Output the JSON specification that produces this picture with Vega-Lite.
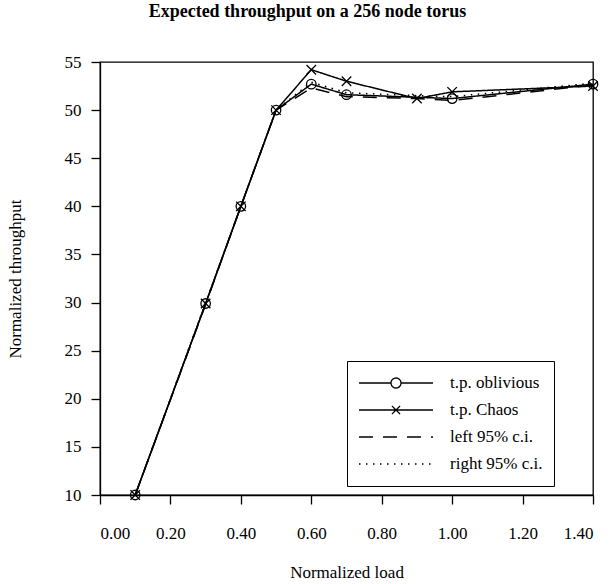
{
  "$schema": "https://vega.github.io/schema/vega-lite/v6.json",
  "width": 493,
  "height": 433,
  "autosize": {"type": "none"},
  "padding": {"left": 100, "top": 62, "right": 20, "bottom": 89},
  "background": "white",
  "title": {
    "text": "Expected throughput on a 256 node torus",
    "font": "Liberation Serif",
    "fontSize": 18,
    "fontWeight": "bold",
    "color": "black",
    "anchor": "middle",
    "baseline": "alphabetic",
    "offset": 18,
    "dx": -39
  },
  "config": {
    "view": {"stroke": "black", "strokeWidth": 1.3},
    "axis": {
      "grid": false,
      "domainColor": "black",
      "domainWidth": 1.3,
      "tickColor": "black",
      "tickWidth": 1.3,
      "tickSize": 9,
      "labelFont": "Liberation Serif",
      "labelFontSize": 17,
      "labelColor": "black",
      "titleFont": "Liberation Serif",
      "titleFontSize": 17,
      "titleFontWeight": "normal",
      "titleColor": "black"
    }
  },
  "data": {
    "values": [
      {"load": 0.1, "throughput": 10.0, "series": "t.p. oblivious"},
      {"load": 0.3, "throughput": 29.9, "series": "t.p. oblivious"},
      {"load": 0.4, "throughput": 40.0, "series": "t.p. oblivious"},
      {"load": 0.5, "throughput": 50.0, "series": "t.p. oblivious"},
      {"load": 0.6, "throughput": 52.7, "series": "t.p. oblivious"},
      {"load": 0.7, "throughput": 51.6, "series": "t.p. oblivious"},
      {"load": 1.0, "throughput": 51.2, "series": "t.p. oblivious"},
      {"load": 1.4, "throughput": 52.7, "series": "t.p. oblivious"},

      {"load": 0.1, "throughput": 10.0, "series": "t.p. Chaos"},
      {"load": 0.3, "throughput": 29.9, "series": "t.p. Chaos"},
      {"load": 0.4, "throughput": 40.0, "series": "t.p. Chaos"},
      {"load": 0.5, "throughput": 50.0, "series": "t.p. Chaos"},
      {"load": 0.6, "throughput": 54.2, "series": "t.p. Chaos"},
      {"load": 0.7, "throughput": 53.0, "series": "t.p. Chaos"},
      {"load": 0.9, "throughput": 51.2, "series": "t.p. Chaos"},
      {"load": 1.0, "throughput": 51.9, "series": "t.p. Chaos"},
      {"load": 1.4, "throughput": 52.5, "series": "t.p. Chaos"},

      {"load": 0.1, "throughput": 10.0, "series": "left 95% c.i."},
      {"load": 0.3, "throughput": 29.8, "series": "left 95% c.i."},
      {"load": 0.4, "throughput": 40.0, "series": "left 95% c.i."},
      {"load": 0.5, "throughput": 50.0, "series": "left 95% c.i."},
      {"load": 0.6, "throughput": 52.3, "series": "left 95% c.i."},
      {"load": 0.7, "throughput": 51.4, "series": "left 95% c.i."},
      {"load": 0.9, "throughput": 51.2, "series": "left 95% c.i."},
      {"load": 1.0, "throughput": 51.0, "series": "left 95% c.i."},
      {"load": 1.4, "throughput": 52.6, "series": "left 95% c.i."},

      {"load": 0.1, "throughput": 10.0, "series": "right 95% c.i."},
      {"load": 0.3, "throughput": 30.0, "series": "right 95% c.i."},
      {"load": 0.4, "throughput": 40.0, "series": "right 95% c.i."},
      {"load": 0.5, "throughput": 50.0, "series": "right 95% c.i."},
      {"load": 0.6, "throughput": 52.9, "series": "right 95% c.i."},
      {"load": 0.7, "throughput": 51.8, "series": "right 95% c.i."},
      {"load": 0.9, "throughput": 51.5, "series": "right 95% c.i."},
      {"load": 1.0, "throughput": 51.4, "series": "right 95% c.i."},
      {"load": 1.4, "throughput": 52.8, "series": "right 95% c.i."}
    ]
  },
  "encoding": {
    "x": {
      "field": "load",
      "type": "quantitative",
      "scale": {"domain": [0, 1.4], "nice": false, "zero": false},
      "axis": {
        "title": "Normalized load",
        "values": [0, 0.2, 0.4, 0.6, 0.8, 1.0, 1.2, 1.4],
        "format": ".2f",
        "labelPadding": 21,
        "titleY": 77,
        "titleBaseline": "middle"
      }
    },
    "y": {
      "field": "throughput",
      "type": "quantitative",
      "scale": {"domain": [10, 55], "nice": false, "zero": false},
      "axis": {
        "title": "Normalized throughput",
        "values": [10, 15, 20, 25, 30, 35, 40, 45, 50, 55],
        "labelPadding": 10,
        "titleX": -85,
        "titleY": 216.5,
        "titleAngle": -90,
        "titleAlign": "center",
        "titleBaseline": "middle"
      }
    }
  },
  "layer": [
    {
      "mark": {"type": "line", "color": "black", "strokeWidth": 1.5},
      "encoding": {
        "strokeDash": {
          "field": "series",
          "type": "nominal",
          "scale": {
            "domain": ["t.p. oblivious", "t.p. Chaos", "left 95% c.i.", "right 95% c.i."],
            "range": [[1, 0], [1, 0], [14, 10], [1.5, 5.5]]
          },
          "legend": {
            "orient": "none",
            "legendX": 247,
            "legendY": 299,
            "title": null,
            "strokeColor": "black",
            "fillColor": "white",
            "padding": 11,
            "cornerRadius": 0,
            "symbolSize": 5476,
            "clipHeight": 22,
            "rowPadding": 5,
            "labelOffset": 16,
            "labelFont": "Liberation Serif",
            "labelFontSize": 17,
            "labelColor": "black",
            "symbolStrokeColor": "black",
            "symbolStrokeWidth": 1.3,
            "encode": {
              "symbols": {
                "update": {
                  "shape": {
                    "signal": "datum.value === 't.p. oblivious' ? 'M-1,0H-0.135M0.135,0H1M-0.135,0A0.135,0.135,0,1,1,0.135,0A0.135,0.135,0,1,1,-0.135,0' : datum.value === 't.p. Chaos' ? 'M-1,0H1M-0.11,-0.11L0.11,0.11M-0.11,0.11L0.11,-0.11' : 'M-1,0H1'"
                  },
                  "fill": {"value": "transparent"}
                }
              }
            }
          }
        }
      }
    },
    {
      "transform": [{"filter": {"field": "series", "oneOf": ["t.p. oblivious", "t.p. Chaos"]}}],
      "mark": {"type": "point", "filled": false, "color": "black", "strokeWidth": 1.3, "opacity": 1, "size": 90},
      "encoding": {
        "shape": {
          "field": "series",
          "type": "nominal",
          "scale": {
            "domain": ["t.p. oblivious", "t.p. Chaos"],
            "range": ["circle", "M-1,-1L1,1M-1,1L1,-1"]
          },
          "legend": null
        }
      }
    }
  ]
}
